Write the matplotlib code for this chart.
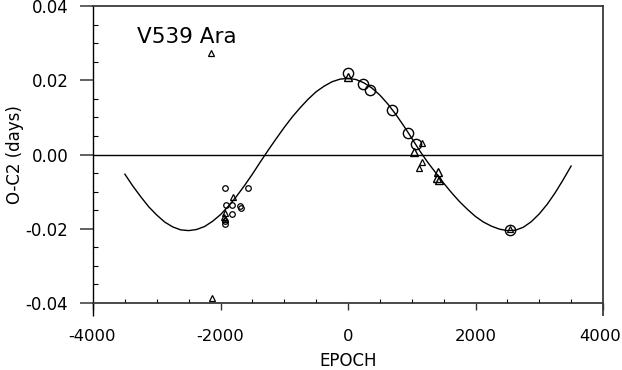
import matplotlib
matplotlib.use("Agg")
import matplotlib.pyplot as plt
from matplotlib.ticker import MultipleLocator, FixedLocator
from matplotlib.transforms import ScaledTranslation

plt.rcParams['axes.unicode_minus'] = False
plt.rcParams['font.family'] = ['DejaVu Sans']

# Fitted curve
curve_epoch = [-3500, -3375, -3250, -3125, -3000, -2875, -2750, -2625, -2500, -2375,
               -2250, -2125, -2000, -1875, -1750, -1625, -1500, -1375, -1250, -1125,
               -1000, -875, -750, -625, -500, -375, -250, -125, 0, 125,
               250, 375, 500, 625, 750, 875, 1000, 1125, 1250, 1375,
               1500, 1625, 1750, 1875, 2000, 2125, 2250, 2375, 2500, 2625,
               2750, 2875, 3000, 3125, 3250, 3375, 3500]
curve_oc = [-0.0053, -0.0085, -0.0114, -0.0141, -0.0163, -0.0182, -0.0195, -0.0203, -0.0205, -0.0202,
            -0.0194, -0.0180, -0.0162, -0.0139, -0.0113, -0.0084, -0.0053, -0.0020, 0.0012, 0.0043,
            0.0073, 0.0101, 0.0126, 0.0149, 0.0169, 0.0184, 0.0196, 0.0203, 0.0205, 0.0202,
            0.0193, 0.0179, 0.0160, 0.0136, 0.0108, 0.0077, 0.0044, 0.0010, -0.0021, -0.0049,
            -0.0077, -0.0103, -0.0127, -0.0148, -0.0167, -0.0182, -0.0193, -0.0201, -0.0205, -0.0204,
            -0.0196, -0.0181, -0.0160, -0.0134, -0.0103, -0.0068, -0.0031]

# Large circles
big_circ_epoch = [5, 230, 345, 685, 935, 1060, 2540]
big_circ_oc = [0.0219, 0.0190, 0.0174, 0.0119, 0.0059, 0.0028, -0.0203]

# Small circles
small_circ_epoch = [-1930, -1575, -1915, -1815, -1690, -1680, -1815, -1930, -1935]
small_circ_oc = [-0.0091, -0.0091, -0.0136, -0.0136, -0.0139, -0.0143, -0.0161, -0.0178, -0.0187]

# Small triangles
small_tri_epoch = [-2150, -2140, -1800, -1935, -1950, -1935, 1165, 1165, 1110, 2545]
small_tri_oc = [0.0273, -0.0387, -0.0114, -0.0157, -0.0168, -0.0175, 0.0032, -0.0019, -0.0036, -0.0202]

# Medium triangles
med_tri_epoch = [5, 1040, 1415, 1400, 1420]
med_tri_oc = [0.0208, 0.0006, -0.0048, -0.0063, -0.0068]

star_name = "V539 Ara"
xticks = [-4000, -2000, 0, 2000, 4000]
yticks = [-0.04, -0.02, 0.00, 0.02, 0.04]

W, H = 622, 370
fig = plt.figure(figsize=(W / 100, H / 100), dpi=100)
ax = fig.add_axes([93 / W, 1 - 303 / H, 510 / W, 297 / H])
ax.set_xlim(-4000, 4000)
ax.set_ylim(-0.04, 0.04)

ax.axhline(0, color='black', lw=1.0, zorder=1)
ax.plot(curve_epoch, curve_oc, color='black', lw=1.0, zorder=2)

ax.plot(big_circ_epoch, big_circ_oc, 'o', ms=7.4, mfc='none', mec='black', mew=1.0, zorder=3)
ax.plot(small_circ_epoch, small_circ_oc, 'o', ms=4.0, mfc='none', mec='black', mew=0.9, zorder=3)
ax.plot(small_tri_epoch, small_tri_oc, '^', ms=4.2, mfc='none', mec='black', mew=0.9, zorder=3)
ax.plot(med_tri_epoch, med_tri_oc, '^', ms=6.0, mfc='none', mec='black', mew=1.0, zorder=3)

# ticks
ax.xaxis.set_major_locator(FixedLocator(xticks))
ax.xaxis.set_minor_locator(MultipleLocator(500))
ax.yaxis.set_major_locator(FixedLocator(yticks))
ax.yaxis.set_minor_locator(MultipleLocator(0.005))
ax.set_xticklabels([f"{v:d}" for v in xticks])
ax.set_yticklabels([f"{v:.2f}" for v in yticks])

ax.tick_params(axis='x', which='major', direction='out', length=5, width=1.0,
               color='#333333', pad=13.5, labelsize=11.8)
ax.tick_params(axis='x', which='minor', direction='in', length=3, width=0.8, color='black')
ax.tick_params(axis='y', which='major', direction='out', length=9.4, width=1.3,
               color='#555555', pad=8.4, labelsize=12)
ax.tick_params(axis='y', which='minor', direction='in', length=3.6, width=0.8, color='black')

# keep the rightmost x label inside the canvas (as in the reference)
xlabels = ax.get_xticklabels()
xlabels[-1].set_transform(xlabels[-1].get_transform() +
                          ScaledTranslation(-3 / 100, 0, fig.dpi_scale_trans))
xlabels[0].set_transform(xlabels[0].get_transform() +
                         ScaledTranslation(-1 / 100, 0, fig.dpi_scale_trans))

for s in ['top', 'right', 'bottom']:
    ax.spines[s].set_color('#3a3a3a')
    ax.spines[s].set_linewidth(1.3)
ax.spines['left'].set_color('black')
ax.spines['left'].set_linewidth(1.0)

# extend the end verticals below the bottom axis
ax.vlines([-4000], -0.0435, -0.04, color='black', lw=1.0, clip_on=False)
ax.vlines([4000], -0.0435, -0.04, color='#3a3a3a', lw=1.3, clip_on=False)

ax.text(-2525, 0.0317, star_name, fontsize=15.5, ha='center', va='center')

fig.text(348 / W, 1 - 361 / H, "EPOCH", fontsize=12, ha='center', va='center')
fig.text(15 / W, 1 - 155 / H, "O-C2 (days)", fontsize=12, ha='center', va='center',
         rotation=90)

fig.savefig("out.png", dpi=100)
